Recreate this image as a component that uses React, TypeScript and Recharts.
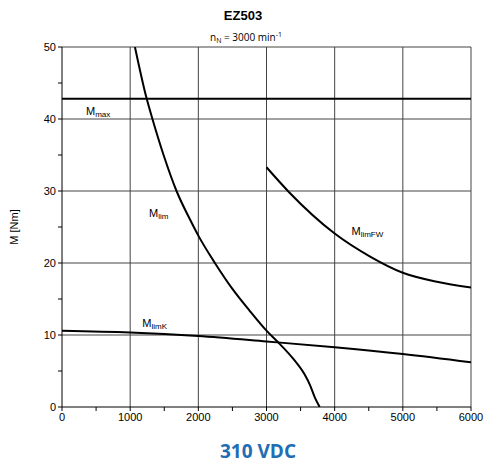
import React from 'react';
import { LineChart, Line, XAxis, YAxis, CartesianGrid, ReferenceDot } from 'recharts';

const xTicks = [0, 500, 1000, 1500, 2000, 2500, 3000, 3500, 4000, 4500, 5000, 5500, 6000];
const yTicks = [0, 5, 10, 15, 20, 25, 30, 35, 40, 45, 50];
const gridX = [1000, 2000, 3000, 4000, 5000, 6000];
const gridY = [10, 20, 30, 40, 50];

const mMax = [
  { n: 0, m: 42.8 },
  { n: 6000, m: 42.8 },
];
const mLim = [
  { n: 1070, m: 50 },
  { n: 1240, m: 42.9 },
  { n: 1330, m: 39.9 },
  { n: 1490, m: 35.0 },
  { n: 1680, m: 30.0 },
  { n: 1880, m: 26.0 },
  { n: 2000, m: 23.8 },
  { n: 2250, m: 19.9 },
  { n: 2500, m: 16.4 },
  { n: 2750, m: 13.4 },
  { n: 3000, m: 10.6 },
  { n: 3200, m: 8.7 },
  { n: 3400, m: 6.6 },
  { n: 3560, m: 4.5 },
  { n: 3640, m: 3.0 },
  { n: 3710, m: 1.3 },
  { n: 3780, m: 0 },
];
const mLimFW = [
  { n: 3000, m: 33.3 },
  { n: 3335, m: 29.8 },
  { n: 4000, m: 24.1 },
  { n: 4520, m: 20.9 },
  { n: 5000, m: 18.65 },
  { n: 5500, m: 17.4 },
  { n: 6000, m: 16.6 },
];
const mLimK = [
  { n: 0, m: 10.6 },
  { n: 1000, m: 10.35 },
  { n: 2000, m: 9.85 },
  { n: 3000, m: 9.1 },
  { n: 4000, m: 8.3 },
  { n: 5000, m: 7.35 },
  { n: 6000, m: 6.2 },
];
const curveLabels = [
  { n: 530, m: 41.1, sub: 'max' },
  { n: 1420, m: 26.9, sub: 'lim' },
  { n: 4480, m: 24.5, sub: 'limFW' },
  { n: 1360, m: 11.7, sub: 'limK' },
];

const FONT = 'Liberation Sans, Arial, sans-serif';

const SubLabel = (props: any) => {
  const { viewBox, sub } = props;
  const x = viewBox.x;
  const y = viewBox.y;
  return (
    <text x={x} y={y + 4} textAnchor="middle" fontFamily={FONT} fontSize={11} fill="#000">
      M<tspan fontSize={8} dy={2} fill="#000">{sub}</tspan>
    </text>
  );
};

export default function App() {
  return (
    <div style={{ position: 'absolute', left: 0, top: 0, width: 485, height: 466, background: '#fff' }}>
      <LineChart width={485} height={466} margin={{ top: 47, right: 14, bottom: 29, left: 0 }}>
        <CartesianGrid
          horizontalValues={gridY}
          verticalValues={gridX}
          stroke="#444"
          strokeWidth={1}
        />
        <XAxis
          type="number"
          dataKey="n"
          domain={[0, 6000]}
          ticks={xTicks}
          interval={0}
          allowDataOverflow
          height={30}
          tickFormatter={(v: number) => (v % 1000 === 0 ? String(v) : '')}
          tick={{ fontSize: 11, fill: '#000', fontFamily: FONT }}
          tickSize={4}
          axisLine={{ stroke: '#000' }}
          tickLine={{ stroke: '#000' }}
        />
        <YAxis
          type="number"
          dataKey="m"
          domain={[0, 50]}
          ticks={yTicks}
          interval={0}
          allowDataOverflow
          width={62}
          tickFormatter={(v: number) => (v % 10 === 0 ? String(v) : '')}
          tick={{ fontSize: 11, fill: '#000', fontFamily: FONT }}
          tickSize={4}
          axisLine={{ stroke: '#000' }}
          tickLine={{ stroke: '#000' }}
        />
        <Line data={mMax} dataKey="m" type="linear" stroke="#000" strokeWidth={2} dot={false} isAnimationActive={false} />
        <Line data={mLim} dataKey="m" type="monotone" stroke="#000" strokeWidth={2} dot={false} isAnimationActive={false} />
        <Line data={mLimFW} dataKey="m" type="monotone" stroke="#000" strokeWidth={2} dot={false} isAnimationActive={false} />
        <Line data={mLimK} dataKey="m" type="monotone" stroke="#000" strokeWidth={2} dot={false} isAnimationActive={false} />
        {curveLabels.map((l) => (
          <ReferenceDot
            key={l.sub}
            x={l.n}
            y={l.m}
            r={0}
            stroke="none"
            fill="none"
            label={<SubLabel sub={l.sub} />}
          />
        ))}
        <text x={243} y={20} textAnchor="middle" fontFamily={FONT} fontWeight="bold" fontSize={13} fill="#000">EZ503</text>
        <text x={246} y={41} textAnchor="middle" fontFamily="Open Sans, sans-serif" fontSize={10} fill="#000">
          n<tspan fontSize={7} dy={2}>N</tspan><tspan dy={-2}> = 3000 min</tspan><tspan fontSize={7} dy={-4}>-1</tspan>
        </text>
        <text x={18} y={227} textAnchor="middle" fontFamily={FONT} fontSize={11} fill="#000" transform="rotate(-90 18 227)">M [Nm]</text>
        <text x={258} y={458} textAnchor="middle" fontFamily="Open Sans, sans-serif" fontWeight="bold" fontSize={19} fill="#1f6db3">310 VDC</text>
      </LineChart>
    </div>
  );
}
